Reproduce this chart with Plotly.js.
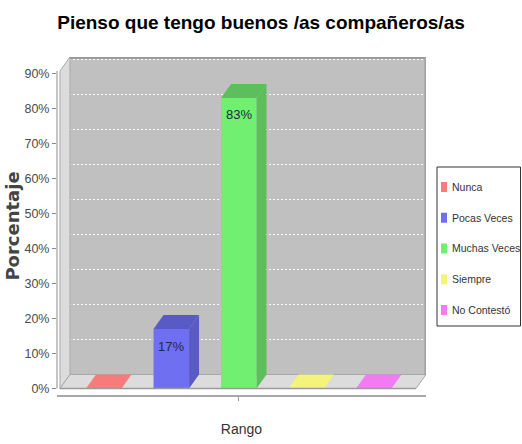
<!DOCTYPE html>
<html>
<head>
<meta charset="utf-8">
<script src="https://cdn.plot.ly/plotly-3.0.1.min.js"></script>
<style>html,body{margin:0;padding:0;background:#fff;}#chart{width:522px;height:444px;}</style>
</head>
<body>
<div id="chart"></div>
<script>
// ---- data ----
const chartTitle = "Pienso que tengo buenos /as compañeros/as";
const categories = ["Rango"];
const seriesNames = ["Nunca", "Pocas Veces", "Muchas Veces", "Siempre", "No Contestó"];
const seriesValues = [0, 17, 83, 0, 0];
const yTickVals = [0, 10, 20, 30, 40, 50, 60, 70, 80, 90];
const yTickText = ["0%", "10%", "20%", "30%", "40%", "50%", "60%", "70%", "80%", "90%"];
const yTitle = "Porcentaje";
const frontColors = ["#f77b7b", "#6f6ff2", "#70ef70", "#f4f47a", "#f27af2"];
const shadeColors = ["#c96363", "#5a5ac6", "#5cbf5c", "#c9c963", "#c963c9"];

// ---- geometry / style ----
const W = 522, H = 444;
const M = {l: 57, r: 96, t: 57, b: 49};
const xRange = [-0.693, 4.773];
const yRange = [-1.857, 94.71];
const barW = 0.526;
const dX = 0.148, dY = 4.0;
const xLeftWall = -0.649, xFloorRight = 4.625;
const sans = "Liberation Sans, Arial, sans-serif";
const plotW = W - M.l - M.r, plotH = H - M.t - M.b;
const px2pxX = p => (p - M.l) / plotW;
const px2pxY = p => (H - M.b - p) / plotH;

const traces = [];
// front faces
seriesNames.forEach((name, i) => {
  traces.push({
    type: "bar", x: [i], y: [seriesValues[i]], width: barW, name: name,
    marker: {color: frontColors[i], line: {width: 0}},
    showlegend: false, hoverinfo: "name+y"
  });
});
// top and side faces (pseudo-3D), derived from the values
seriesNames.forEach((name, i) => {
  const v = seriesValues[i];
  const a = i - barW / 2, b = i + barW / 2;
  traces.push({
    type: "scatter", mode: "lines", fill: "toself",
    x: [a, b, b + dX, a + dX, a], y: [v, v, v + dY, v + dY, v],
    fillcolor: v === 0 ? frontColors[i] : shadeColors[i],
    line: {width: 0}, showlegend: false, hoverinfo: "skip"
  });
  if (v > 0) {
    traces.push({
      type: "scatter", mode: "lines", fill: "toself",
      x: [b, b + dX, b + dX, b, b], y: [0, dY, v + dY, v, 0],
      fillcolor: shadeColors[i], line: {width: 0}, showlegend: false, hoverinfo: "skip"
    });
  }
});
// carrier for the back-wall grid axis
traces.push({type: "scatter", x: [null], y: [null], yaxis: "y2", showlegend: false, hoverinfo: "skip"});

const yTop = yRange[1];
const shapes = [
  // back wall
  {type: "rect", xref: "x", yref: "y", x0: xLeftWall + dX, x1: xRange[1], y0: dY, y1: yTop,
   fillcolor: "#c0c0c0", line: {width: 0}, layer: "below"},
  // left wall
  {type: "path", xref: "x", yref: "y", layer: "between",
   path: `M${xLeftWall},0 L${xLeftWall + dX},${dY} L${xLeftWall + dX},${yTop} L${xLeftWall},${yTop - dY} Z`,
   fillcolor: "#dcdcdc", line: {width: 1, color: "#a8a8a8"}},
  // floor
  {type: "path", xref: "x", yref: "y", layer: "between",
   path: `M${xLeftWall},0 L${xFloorRight},0 L${xFloorRight + dX},${dY} L${xLeftWall + dX},${dY} Z`,
   fillcolor: "#dcdcdc", line: {width: 1, color: "#a8a8a8"}},
  // wall edges
  {type: "line", xref: "x", yref: "y", x0: xLeftWall + dX, x1: xRange[1], y0: yTop - 0.3, y1: yTop - 0.3,
   line: {color: "#9a9a9a", width: 2}},
  {type: "line", xref: "x", yref: "y", x0: xRange[1] - 0.01, x1: xRange[1] - 0.01, y0: dY, y1: yTop,
   line: {color: "#a4a4a4", width: 2}},
  {type: "line", xref: "x", yref: "y", x0: xLeftWall, x1: xFloorRight, y0: 0, y1: 0,
   line: {color: "#9a9a9a", width: 1.5}},
  // front y axis line
  {type: "line", xref: "paper", yref: "y", x0: 0, x1: 0, y0: 0, y1: yTop - dY,
   line: {color: "#8a8a8a", width: 1}},
  // legend box
  {type: "rect", xref: "paper", yref: "paper", x0: px2pxX(437), x1: px2pxX(520.5), y0: px2pxY(326), y1: px2pxY(167),
   fillcolor: "#ffffff", line: {color: "#333333", width: 1}}
];

const annotations = [];
seriesValues.forEach((v, i) => {
  if (v > 0) {
    annotations.push({x: i, y: v, xref: "x", yref: "y", text: v + "%", showarrow: false,
      yanchor: "middle", yshift: -17, font: {family: sans, size: 13, color: "#26264a"}});
  }
});
seriesNames.forEach((name, i) => {
  const cy = 187 + 30.75 * i;
  shapes.push({type: "rect", xref: "paper", yref: "paper",
    x0: px2pxX(441), x1: px2pxX(447), y0: px2pxY(cy + 5), y1: px2pxY(cy - 5),
    fillcolor: frontColors[i], line: {width: 0}});
  annotations.push({x: px2pxX(450), y: px2pxY(cy), xref: "paper", yref: "paper", text: name,
    showarrow: false, xanchor: "left", yanchor: "middle",
    font: {family: sans, size: 10.5, color: "#333333"}});
});

const layout = {
  width: W, height: H,
  margin: {l: M.l, r: M.r, t: M.t, b: M.b, autoexpand: false},
  paper_bgcolor: "#ffffff", plot_bgcolor: "#ffffff",
  showlegend: false, barmode: "overlay",
  title: {text: chartTitle, xref: "container", yref: "container", x: 0.5, y: 1 - 22 / H,
          xanchor: "center", yanchor: "middle",
          font: {family: sans, size: 19, weight: "bold", color: "#000000"}},
  xaxis: {range: xRange, tickvals: [2], ticktext: [""], ticks: "outside", ticklen: 4, tickcolor: "#999999",
          showline: true, linecolor: "#a8a8a8", linewidth: 2, showgrid: false, zeroline: false, fixedrange: true,
          title: {text: categories[0], standoff: 22, font: {family: sans, size: 14, color: "#333333"}}},
  yaxis: {range: yRange, tickvals: yTickVals, ticktext: yTickText, ticks: "outside", ticklen: 4, tickcolor: "#8a8a8a",
          showline: false, showgrid: false, zeroline: false, fixedrange: true,
          tickfont: {family: sans, size: 12.5, color: "#4a4a4a"},
          title: {text: yTitle, standoff: 0, font: {family: "DejaVu Sans, sans-serif", size: 18, weight: "bold", color: "#444444"}}},
  yaxis2: {overlaying: "y", range: [yRange[0] - dY, yRange[1] - dY], tickvals: yTickVals, showticklabels: false,
           ticks: "", showline: false, zeroline: false, showgrid: true, gridcolor: "rgba(255,255,255,0.95)",
           griddash: "2px,2px", gridwidth: 1, fixedrange: true},
  shapes: shapes, annotations: annotations
};

Plotly.newPlot("chart", traces, layout, {displayModeBar: false, staticPlot: true});
</script>
</body>
</html>
